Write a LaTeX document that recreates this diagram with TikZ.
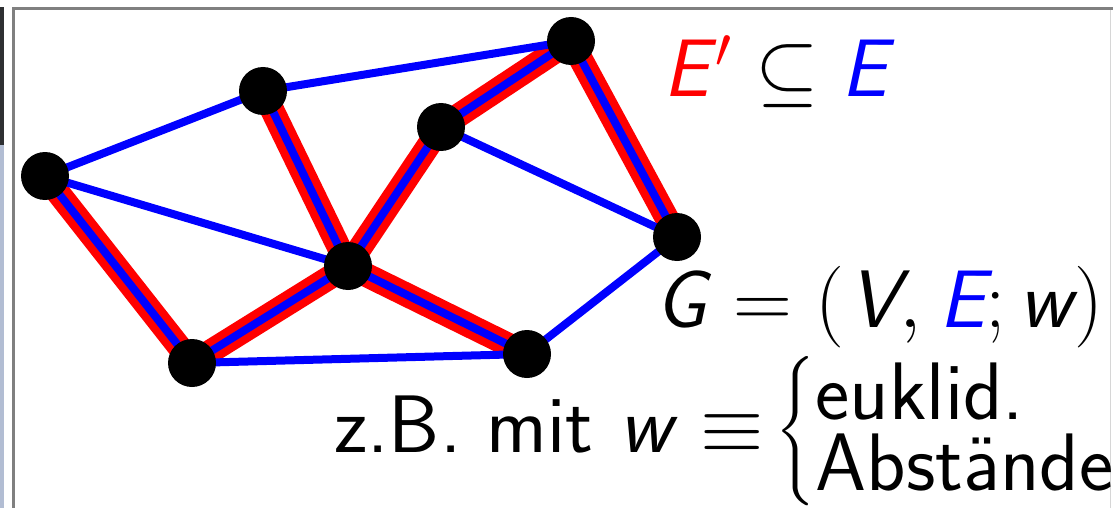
\RequirePackage{fix-cm}
\documentclass[tikz,border=0pt]{standalone}
\usepackage{amsmath}
\pgfdeclarelayer{redl}
\pgfdeclarelayer{bluel}
\pgfsetlayers{redl,bluel,main}
\definecolor{framegray}{HTML}{808080}
\definecolor{stripdark}{HTML}{2E3032}
\definecolor{striplight}{HTML}{B2BDD3}
\definecolor{rightgray}{HTML}{D6D6D6}
\newcommand\mv[1]{\textsf{\slshape #1}}
\newcommand\rowstrut{\rule[-6pt]{0pt}{35.5pt}}
\begin{document}
\begin{tikzpicture}[x=0.5pt,y=-0.5pt,
  vtx/.style={circle,fill=black,minimum size=24pt,inner sep=0pt},
  bedge/.style={draw=blue,line width=4pt},
  redge/.style={draw=red,line width=12pt},
  lbl/.style={inner sep=0pt,anchor=base west,font=\sffamily\fontsize{40.8}{36}\selectfont}]
\useasboundingbox (0,0) rectangle (1113,508);
% frame and left strip
\fill[stripdark] (0,7) rectangle (4,145);
\fill[striplight] (0,145) rectangle (4,508);
\draw[framegray,line width=1.5pt] (13.5,508) -- (13.5,8.5) -- (1113,8.5);
\draw[rightgray,line width=0.8pt] (1110.5,10) -- (1110.5,508);
% vertices
\node[vtx] (A) at (45,176) {};
\node[vtx] (B) at (263,91) {};
\node[vtx] (C) at (571,41) {};
\node[vtx] (D) at (441,127) {};
\node[vtx] (E) at (348,266) {};
\node[vtx] (F) at (677,237) {};
\node[vtx] (G) at (192,363) {};
\node[vtx] (H) at (527,354) {};
% spanning tree E' (red)
\begin{pgfonlayer}{redl}
\foreach \u/\v in {A/G,G/E,E/H,E/B,E/D,D/C,C/F}
  \draw[redge] (\u.center) -- (\v.center);
\end{pgfonlayer}
% all edges E (blue)
\begin{pgfonlayer}{bluel}
\foreach \u/\v in {A/B,B/C,A/E,D/F,F/H,G/H,A/G,G/E,E/H,E/B,E/D,D/C,C/F}
  \draw[bedge] (\u.center) -- (\v.center);
\end{pgfonlayer}
% labels
\node[lbl] (t1) at (663,97) {$\textcolor{red}{\mv{E}\mskip1.5mu{}'}\subseteq\textcolor{blue}{\mv{E}}$};
\node[lbl] (t2) at (655,327) {$\mv{G}\mskip1mu=(\mskip1mu\mv{V},\mskip1mu\textcolor{blue}{\mv{E}};\mv{w}\mskip0.5mu)$};
\node[lbl] (t3) at (334,452) {z.B. mit $\mv{w}\mskip1.5mu\equiv\mskip-2.5mu\left\{\renewcommand\arraystretch{0}\begin{array}{@{}l@{}}\rowstrut\text{euklid.}\\\rowstrut\text{Abstände}\end{array}\right.$};
\end{tikzpicture}
\end{document}
